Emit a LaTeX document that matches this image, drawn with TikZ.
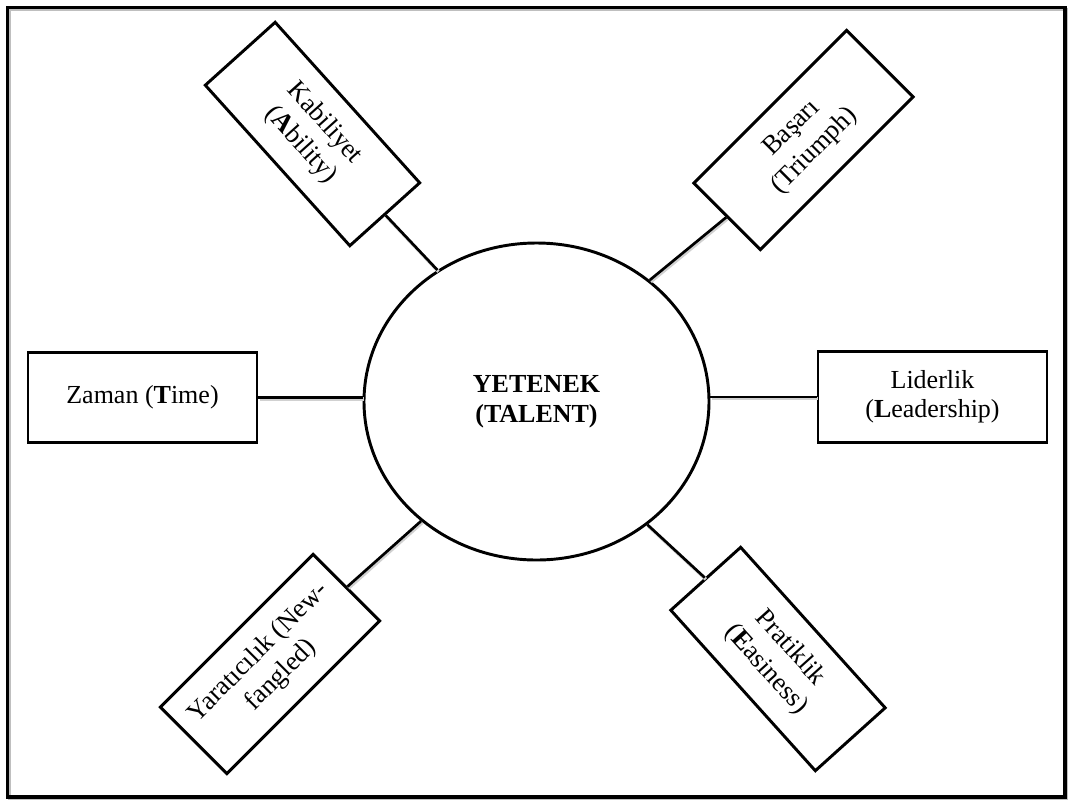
\documentclass[tikz,border=0pt]{standalone}
\usepackage{fontspec}
\setmainfont{Liberation Serif}
\usetikzlibrary{shapes.geometric}
\begin{document}
\begin{tikzpicture}[x=0.75pt,y=-0.75pt,
  box/.style={draw,line width=2.2pt,align=center,inner sep=2pt},
  hbox/.style={box,font=\fontsize{19.5}{21.5}\selectfont,minimum width=171.75pt,minimum height=68pt},
  rbox/.style={box,font=\fontsize{20}{24}\selectfont,minimum width=162pt,minimum height=70.5pt},
  link/.style={line width=2pt},
  shade/.style={line width=2.5pt,black!18,transform canvas={xshift=0.8pt,yshift=-1.2pt}}]
\useasboundingbox (0,0) rectangle (1072,801);
\draw[line width=2.4pt,black!25] (9.5,9.5) rectangle (1066.5,798.5);
\draw[line width=2.4pt] (7.5,7.5) rectangle (1065,797);
\node[draw,ellipse,line width=2.2pt,inner sep=0pt,minimum width=258.75pt,minimum height=237.75pt,
  align=center,font=\bfseries\fontsize{19.5}{22.5}\selectfont] (ell) at (536.5,401.5) {YETENEK\\(TALENT)};
\node[hbox] (zam) at (142.5,397.5) {Zaman (\textbf{T}ime)};
\node[hbox] (lid) at (932.5,397) {Liderlik\\(\textbf{L}eadership)};
\node[rbox,rotate=-48] (kab) at (312.5,134) {Kabiliyet\\(\textbf{A}bility)};
\node[rbox,rotate=45] (bas) at (803.5,140) {Başarı\\(Triumph)};
\node[rbox,rotate=45] (yar) at (270,664) {Yaratıcılık (New-\\fangled)};
\node[rbox,rotate=-48] (pra) at (778,659) {Pratiklik\\(\textbf{E}asiness)};
\begin{scope}[shade]
\draw (zam.east) -- (zam.east -| ell.west);
\draw (lid.west) -- (lid.west -| ell.east);
\draw (kab.east) -- (ell.127);
\draw (bas.west) -- (ell.47);
\draw (yar.east) -- (ell.226);
\draw (pra.west) -- (ell.312.5);
\end{scope}
\draw[link] (zam.east) -- (zam.east -| ell.west);
\draw[link] (lid.west) -- (lid.west -| ell.east);
\draw[link] (kab.east) -- (ell.127);
\draw[link] (bas.west) -- (ell.47);
\draw[link] (yar.east) -- (ell.226);
\draw[link] (pra.west) -- (ell.312.5);
\end{tikzpicture}
\end{document}
